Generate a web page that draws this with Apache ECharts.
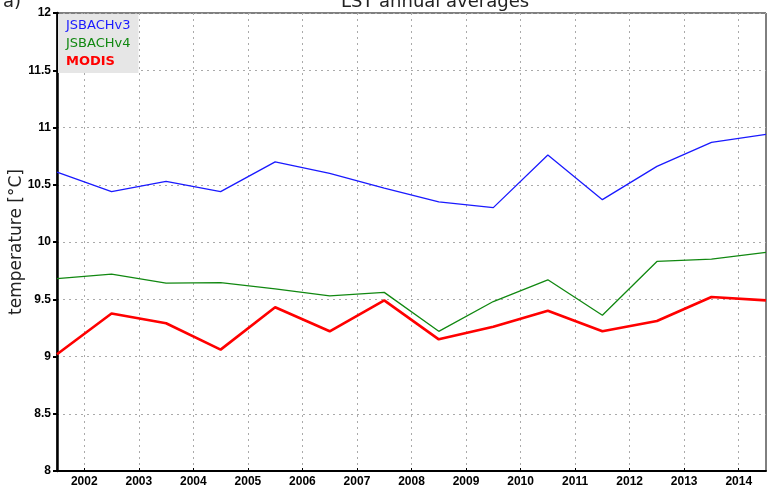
<!DOCTYPE html>
<html>
<head>
<meta charset="utf-8">
<script src="https://cdn.jsdelivr.net/npm/echarts@6/dist/echarts.min.js"></script>
<style>
  html, body { margin: 0; padding: 0; background: #fff; }
  #main { width: 767px; height: 489px; }
</style>
</head>
<body>
<div id="main"></div>
<script>
// annual mean points sit in the middle of each year
var years = [2001.5, 2002.5, 2003.5, 2004.5, 2005.5, 2006.5, 2007.5, 2008.5, 2009.5, 2010.5, 2011.5, 2012.5, 2013.5, 2014.5];
var tickYears = [2002, 2003, 2004, 2005, 2006, 2007, 2008, 2009, 2010, 2011, 2012, 2013, 2014];
var jsbachV3 = [10.61, 10.44, 10.53, 10.44, 10.70, 10.60, 10.47, 10.35, 10.30, 10.76, 10.37, 10.66, 10.87, 10.94];
var jsbachV4 = [9.68, 9.72, 9.64, 9.645, 9.59, 9.53, 9.56, 9.22, 9.48, 9.67, 9.36, 9.83, 9.85, 9.91];
var modis = [9.02, 9.375, 9.29, 9.06, 9.43, 9.22, 9.49, 9.15, 9.26, 9.40, 9.22, 9.31, 9.52, 9.49];

function pairs(vals) {
    var out = [];
    for (let i = 0; i < years.length; i++) {
        out.push([years[i], vals[i]]);
    }
    return out;
}

var myChart = echarts.init(document.getElementById('main'));
var dotted = { color: '#aaaaaa', type: [2, 4], width: 1 };
var option = {
    animation: false,
    backgroundColor: '#fff',
    title: [{
        text: 'LST annual averages',
        left: 430, top: -12, textAlign: 'center',
        textStyle: { fontFamily: 'DejaVu Sans', fontSize: 18, fontWeight: 'normal', color: '#222' }
    }, {
        text: 'a)',
        left: -2, top: -12,
        textStyle: { fontFamily: 'DejaVu Sans', fontSize: 18, fontWeight: 'normal', color: '#222' }
    }],
    legend: {
        left: 58, top: 14,
        orient: 'vertical',
        backgroundColor: '#e6e6e6',
        padding: [5, 8, 5, 8],
        itemGap: 5,
        itemWidth: 0, itemHeight: 0,
        icon: 'none',
        selectedMode: false,
        textStyle: { fontFamily: 'DejaVu Sans', fontSize: 13, padding: [0, 0, 0, -5] },
        data: [
            { name: 'JSBACHv3', textStyle: { color: '#1a1aff' } },
            { name: 'JSBACHv4', textStyle: { color: '#118811' } },
            { name: 'MODIS', textStyle: { color: '#ff0000', fontWeight: 'bold' } }
        ]
    },
    grid: {
        left: 57, right: 1, top: 13, bottom: 18,
        containLabel: false,
        outerBoundsMode: 'none',
        show: true, borderColor: '#000', borderWidth: 1
    },
    xAxis: {
        type: 'value',
        min: 2001.5, max: 2014.5,
        axisLine: { show: true, onZero: false, lineStyle: { color: '#000', width: 2 } },
        axisTick: { show: true, customValues: tickYears, length: 3, inside: true, lineStyle: { color: '#000' } },
        axisLabel: {
            customValues: tickYears, margin: 5, color: '#000',
            fontFamily: 'Liberation Sans', fontSize: 12, fontWeight: 'bold',
            formatter: function (v) { return String(v); }
        },
        splitLine: { show: true, lineStyle: dotted }
    },
    yAxis: {
        type: 'value',
        min: 8, max: 12, interval: 0.5,
        name: 'temperature [°C]',
        nameLocation: 'middle',
        nameGap: 32,
        nameMoveOverlap: false,
        nameTextStyle: { fontFamily: 'DejaVu Sans', fontSize: 17, color: '#222' },
        axisLine: { show: true, lineStyle: { color: '#000', width: 2.5 } },
        axisTick: { show: true, length: 4, lineStyle: { color: '#000', width: 2 } },
        axisLabel: {
            margin: 6, color: '#000',
            fontFamily: 'Liberation Sans', fontSize: 12, fontWeight: 'bold'
        },
        splitLine: { show: true, lineStyle: dotted }
    },
    series: [{
        name: 'JSBACHv3', type: 'line', data: pairs(jsbachV3),
        showSymbol: false, lineStyle: { color: '#1a1aff', width: 1.3 }, itemStyle: { color: '#1a1aff' }
    }, {
        name: 'JSBACHv4', type: 'line', data: pairs(jsbachV4),
        showSymbol: false, lineStyle: { color: '#118811', width: 1.3 }, itemStyle: { color: '#118811' }
    }, {
        name: 'MODIS', type: 'line', data: pairs(modis),
        showSymbol: false, lineStyle: { color: '#ff0000', width: 2.6 }, itemStyle: { color: '#ff0000' }
    }]
};
myChart.setOption(option);
</script>
</body>
</html>
